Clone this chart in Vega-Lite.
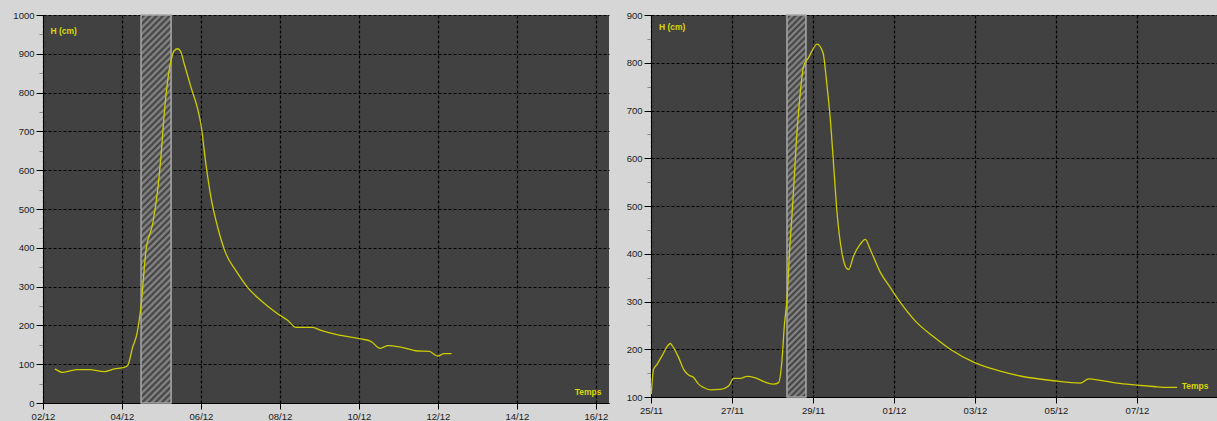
{
  "$schema": "https://vega.github.io/schema/vega-lite/v6.json",
  "background": "#d6d6d6",
  "padding": {"left": 12, "top": 10, "right": 0, "bottom": 0},
  "bounds": "flush",
  "spacing": 42,
  "datasets": {
    "left": [
      {"t": "2003-12-02T07:15", "h": 88},
      {"t": "2003-12-02T12:00", "h": 79},
      {"t": "2003-12-02T21:00", "h": 86},
      {"t": "2003-12-03T04:10", "h": 86},
      {"t": "2003-12-03T13:15", "h": 81},
      {"t": "2003-12-03T19:20", "h": 88},
      {"t": "2003-12-04T01:25", "h": 92},
      {"t": "2003-12-04T03:30", "h": 97},
      {"t": "2003-12-04T06:30", "h": 144},
      {"t": "2003-12-04T09:05", "h": 178},
      {"t": "2003-12-04T11:35", "h": 250},
      {"t": "2003-12-04T14:35", "h": 393},
      {"t": "2003-12-04T18:40", "h": 462},
      {"t": "2003-12-04T21:40", "h": 548},
      {"t": "2003-12-04T23:40", "h": 634},
      {"t": "2003-12-05T01:40", "h": 745},
      {"t": "2003-12-05T04:20", "h": 848},
      {"t": "2003-12-05T05:50", "h": 883},
      {"t": "2003-12-05T07:45", "h": 908},
      {"t": "2003-12-05T09:50", "h": 913},
      {"t": "2003-12-05T11:50", "h": 904},
      {"t": "2003-12-05T13:50", "h": 874},
      {"t": "2003-12-05T17:55", "h": 814},
      {"t": "2003-12-05T22:00", "h": 758},
      {"t": "2003-12-06T00:00", "h": 718},
      {"t": "2003-12-06T03:00", "h": 616},
      {"t": "2003-12-06T06:05", "h": 530},
      {"t": "2003-12-06T10:10", "h": 453},
      {"t": "2003-12-06T15:10", "h": 385},
      {"t": "2003-12-06T21:15", "h": 341},
      {"t": "2003-12-07T04:20", "h": 298},
      {"t": "2003-12-07T12:25", "h": 264},
      {"t": "2003-12-07T22:35", "h": 230},
      {"t": "2003-12-08T04:40", "h": 213},
      {"t": "2003-12-08T09:45", "h": 195},
      {"t": "2003-12-08T19:50", "h": 195},
      {"t": "2003-12-09T00:55", "h": 187},
      {"t": "2003-12-09T13:05", "h": 174},
      {"t": "2003-12-10T01:15", "h": 165},
      {"t": "2003-12-10T07:15", "h": 159},
      {"t": "2003-12-10T12:55", "h": 141},
      {"t": "2003-12-10T17:50", "h": 148},
      {"t": "2003-12-11T01:30", "h": 144},
      {"t": "2003-12-11T11:40", "h": 134},
      {"t": "2003-12-11T18:45", "h": 133},
      {"t": "2003-12-11T23:50", "h": 121},
      {"t": "2003-12-12T03:50", "h": 127},
      {"t": "2003-12-12T08:20", "h": 127}
    ],
    "leftHatch": [{"start": "2003-12-04T11:35", "end": "2003-12-05T05:50"}],
    "right": [
      {"t": "2002-11-25T00:10", "h": 106},
      {"t": "2002-11-25T01:30", "h": 158},
      {"t": "2002-11-25T03:30", "h": 168},
      {"t": "2002-11-25T06:30", "h": 186},
      {"t": "2002-11-25T09:05", "h": 203},
      {"t": "2002-11-25T11:25", "h": 212},
      {"t": "2002-11-25T13:25", "h": 203},
      {"t": "2002-11-25T16:20", "h": 183},
      {"t": "2002-11-25T19:20", "h": 158},
      {"t": "2002-11-25T22:15", "h": 146},
      {"t": "2002-11-26T01:15", "h": 141},
      {"t": "2002-11-26T04:10", "h": 127},
      {"t": "2002-11-26T07:10", "h": 120},
      {"t": "2002-11-26T11:10", "h": 115},
      {"t": "2002-11-26T17:05", "h": 116},
      {"t": "2002-11-26T22:00", "h": 123},
      {"t": "2002-11-27T01:00", "h": 139},
      {"t": "2002-11-27T04:55", "h": 139},
      {"t": "2002-11-27T08:55", "h": 143},
      {"t": "2002-11-27T13:50", "h": 140},
      {"t": "2002-11-27T19:45", "h": 131},
      {"t": "2002-11-28T00:40", "h": 127},
      {"t": "2002-11-28T03:35", "h": 130},
      {"t": "2002-11-28T05:40", "h": 179},
      {"t": "2002-11-28T07:00", "h": 249},
      {"t": "2002-11-28T08:35", "h": 305},
      {"t": "2002-11-28T10:10", "h": 409},
      {"t": "2002-11-28T12:10", "h": 514},
      {"t": "2002-11-28T14:05", "h": 633},
      {"t": "2002-11-28T16:05", "h": 723},
      {"t": "2002-11-28T18:25", "h": 793},
      {"t": "2002-11-28T21:25", "h": 811},
      {"t": "2002-11-28T23:35", "h": 826},
      {"t": "2002-11-29T02:20", "h": 839},
      {"t": "2002-11-29T05:55", "h": 821},
      {"t": "2002-11-29T08:20", "h": 751},
      {"t": "2002-11-29T10:15", "h": 682},
      {"t": "2002-11-29T12:15", "h": 584},
      {"t": "2002-11-29T14:15", "h": 486},
      {"t": "2002-11-29T17:10", "h": 402},
      {"t": "2002-11-29T19:10", "h": 374},
      {"t": "2002-11-29T21:05", "h": 367},
      {"t": "2002-11-30T00:05", "h": 396},
      {"t": "2002-11-30T04:00", "h": 420},
      {"t": "2002-11-30T07:00", "h": 430},
      {"t": "2002-11-30T09:55", "h": 409},
      {"t": "2002-11-30T15:55", "h": 361},
      {"t": "2002-11-30T21:50", "h": 329},
      {"t": "2002-12-01T03:45", "h": 298},
      {"t": "2002-12-01T12:40", "h": 259},
      {"t": "2002-12-01T23:30", "h": 226},
      {"t": "2002-12-02T09:20", "h": 200},
      {"t": "2002-12-02T23:10", "h": 173},
      {"t": "2002-12-03T15:00", "h": 154},
      {"t": "2002-12-04T02:50", "h": 144},
      {"t": "2002-12-04T22:35", "h": 134},
      {"t": "2002-12-05T14:25", "h": 129},
      {"t": "2002-12-05T19:20", "h": 138},
      {"t": "2002-12-06T02:15", "h": 135},
      {"t": "2002-12-06T12:10", "h": 129},
      {"t": "2002-12-07T00:00", "h": 125},
      {"t": "2002-12-07T09:50", "h": 122},
      {"t": "2002-12-07T17:45", "h": 120},
      {"t": "2002-12-07T23:45", "h": 120}
    ],
    "rightHatch": [{"start": "2002-11-28T08:35", "end": "2002-11-28T19:50"}]
  },
  "hconcat": [
    {
      "width": 566,
      "height": 388,
      "layer": [
        {
          "data": {"name": "leftHatch"},
          "mark": {
            "type": "rect",
            "stroke": "#a8a8a8",
            "strokeWidth": 1.5,
            "fill": {
              "gradient": "linear", "x1": 0, "y1": 0, "x2": 0.0828, "y2": 1.0709,
              "stops": [
                {"offset":0,"color":"#8e8e8e"},{"offset":0.0078,"color":"#3c3c3c"},{"offset":0.0156,"color":"#8e8e8e"},{"offset":0.0234,"color":"#3c3c3c"},
                {"offset":0.0313,"color":"#8e8e8e"},{"offset":0.0391,"color":"#3c3c3c"},{"offset":0.0469,"color":"#8e8e8e"},{"offset":0.0547,"color":"#3c3c3c"},
                {"offset":0.0625,"color":"#8e8e8e"},{"offset":0.0703,"color":"#3c3c3c"},{"offset":0.0781,"color":"#8e8e8e"},{"offset":0.0859,"color":"#3c3c3c"},
                {"offset":0.0938,"color":"#8e8e8e"},{"offset":0.1016,"color":"#3c3c3c"},{"offset":0.1094,"color":"#8e8e8e"},{"offset":0.1172,"color":"#3c3c3c"},
                {"offset":0.125,"color":"#8e8e8e"},{"offset":0.1328,"color":"#3c3c3c"},{"offset":0.1406,"color":"#8e8e8e"},{"offset":0.1484,"color":"#3c3c3c"},
                {"offset":0.1563,"color":"#8e8e8e"},{"offset":0.1641,"color":"#3c3c3c"},{"offset":0.1719,"color":"#8e8e8e"},{"offset":0.1797,"color":"#3c3c3c"},
                {"offset":0.1875,"color":"#8e8e8e"},{"offset":0.1953,"color":"#3c3c3c"},{"offset":0.2031,"color":"#8e8e8e"},{"offset":0.2109,"color":"#3c3c3c"},
                {"offset":0.2188,"color":"#8e8e8e"},{"offset":0.2266,"color":"#3c3c3c"},{"offset":0.2344,"color":"#8e8e8e"},{"offset":0.2422,"color":"#3c3c3c"},
                {"offset":0.25,"color":"#8e8e8e"},{"offset":0.2578,"color":"#3c3c3c"},{"offset":0.2656,"color":"#8e8e8e"},{"offset":0.2734,"color":"#3c3c3c"},
                {"offset":0.2813,"color":"#8e8e8e"},{"offset":0.2891,"color":"#3c3c3c"},{"offset":0.2969,"color":"#8e8e8e"},{"offset":0.3047,"color":"#3c3c3c"},
                {"offset":0.3125,"color":"#8e8e8e"},{"offset":0.3203,"color":"#3c3c3c"},{"offset":0.3281,"color":"#8e8e8e"},{"offset":0.3359,"color":"#3c3c3c"},
                {"offset":0.3438,"color":"#8e8e8e"},{"offset":0.3516,"color":"#3c3c3c"},{"offset":0.3594,"color":"#8e8e8e"},{"offset":0.3672,"color":"#3c3c3c"},
                {"offset":0.375,"color":"#8e8e8e"},{"offset":0.3828,"color":"#3c3c3c"},{"offset":0.3906,"color":"#8e8e8e"},{"offset":0.3984,"color":"#3c3c3c"},
                {"offset":0.4063,"color":"#8e8e8e"},{"offset":0.4141,"color":"#3c3c3c"},{"offset":0.4219,"color":"#8e8e8e"},{"offset":0.4297,"color":"#3c3c3c"},
                {"offset":0.4375,"color":"#8e8e8e"},{"offset":0.4453,"color":"#3c3c3c"},{"offset":0.4531,"color":"#8e8e8e"},{"offset":0.4609,"color":"#3c3c3c"},
                {"offset":0.4688,"color":"#8e8e8e"},{"offset":0.4766,"color":"#3c3c3c"},{"offset":0.4844,"color":"#8e8e8e"},{"offset":0.4922,"color":"#3c3c3c"},
                {"offset":0.5,"color":"#8e8e8e"},{"offset":0.5078,"color":"#3c3c3c"},{"offset":0.5156,"color":"#8e8e8e"},{"offset":0.5234,"color":"#3c3c3c"},
                {"offset":0.5313,"color":"#8e8e8e"},{"offset":0.5391,"color":"#3c3c3c"},{"offset":0.5469,"color":"#8e8e8e"},{"offset":0.5547,"color":"#3c3c3c"},
                {"offset":0.5625,"color":"#8e8e8e"},{"offset":0.5703,"color":"#3c3c3c"},{"offset":0.5781,"color":"#8e8e8e"},{"offset":0.5859,"color":"#3c3c3c"},
                {"offset":0.5938,"color":"#8e8e8e"},{"offset":0.6016,"color":"#3c3c3c"},{"offset":0.6094,"color":"#8e8e8e"},{"offset":0.6172,"color":"#3c3c3c"},
                {"offset":0.625,"color":"#8e8e8e"},{"offset":0.6328,"color":"#3c3c3c"},{"offset":0.6406,"color":"#8e8e8e"},{"offset":0.6484,"color":"#3c3c3c"},
                {"offset":0.6563,"color":"#8e8e8e"},{"offset":0.6641,"color":"#3c3c3c"},{"offset":0.6719,"color":"#8e8e8e"},{"offset":0.6797,"color":"#3c3c3c"},
                {"offset":0.6875,"color":"#8e8e8e"},{"offset":0.6953,"color":"#3c3c3c"},{"offset":0.7031,"color":"#8e8e8e"},{"offset":0.7109,"color":"#3c3c3c"},
                {"offset":0.7188,"color":"#8e8e8e"},{"offset":0.7266,"color":"#3c3c3c"},{"offset":0.7344,"color":"#8e8e8e"},{"offset":0.7422,"color":"#3c3c3c"},
                {"offset":0.75,"color":"#8e8e8e"},{"offset":0.7578,"color":"#3c3c3c"},{"offset":0.7656,"color":"#8e8e8e"},{"offset":0.7734,"color":"#3c3c3c"},
                {"offset":0.7813,"color":"#8e8e8e"},{"offset":0.7891,"color":"#3c3c3c"},{"offset":0.7969,"color":"#8e8e8e"},{"offset":0.8047,"color":"#3c3c3c"},
                {"offset":0.8125,"color":"#8e8e8e"},{"offset":0.8203,"color":"#3c3c3c"},{"offset":0.8281,"color":"#8e8e8e"},{"offset":0.8359,"color":"#3c3c3c"},
                {"offset":0.8438,"color":"#8e8e8e"},{"offset":0.8516,"color":"#3c3c3c"},{"offset":0.8594,"color":"#8e8e8e"},{"offset":0.8672,"color":"#3c3c3c"},
                {"offset":0.875,"color":"#8e8e8e"},{"offset":0.8828,"color":"#3c3c3c"},{"offset":0.8906,"color":"#8e8e8e"},{"offset":0.8984,"color":"#3c3c3c"},
                {"offset":0.9063,"color":"#8e8e8e"},{"offset":0.9141,"color":"#3c3c3c"},{"offset":0.9219,"color":"#8e8e8e"},{"offset":0.9297,"color":"#3c3c3c"},
                {"offset":0.9375,"color":"#8e8e8e"},{"offset":0.9453,"color":"#3c3c3c"},{"offset":0.9531,"color":"#8e8e8e"},{"offset":0.9609,"color":"#3c3c3c"},
                {"offset":0.9688,"color":"#8e8e8e"},{"offset":0.9766,"color":"#3c3c3c"},{"offset":0.9844,"color":"#8e8e8e"},{"offset":0.9922,"color":"#3c3c3c"},
                {"offset":1,"color":"#8e8e8e"}
              ]
            }
          },
          "encoding": {
            "x": {"field": "start", "type": "temporal"},
            "x2": {"field": "end"}
          }
        },
        {
          "data": {"name": "left"},
          "mark": {"type": "line", "color": "#cccc00", "strokeWidth": 1.3, "interpolate": "monotone"},
          "encoding": {
            "x": {
              "field": "t", "type": "temporal",
              "scale": {"domain": [{"year": 2003, "month": 12, "date": 2}, {"year": 2003, "month": 12, "date": 16, "hours": 8}]},
              "axis": {
                "values": [
                  {"year": 2003, "month": 12, "date": 2}, {"year": 2003, "month": 12, "date": 4},
                  {"year": 2003, "month": 12, "date": 6}, {"year": 2003, "month": 12, "date": 8},
                  {"year": 2003, "month": 12, "date": 10}, {"year": 2003, "month": 12, "date": 12},
                  {"year": 2003, "month": 12, "date": 14}, {"year": 2003, "month": 12, "date": 16}
                ],
                "format": "%d/%m",
                "title": "Temps", "titleX": 558, "titleY": -12, "titleAlign": "right", "titleBaseline": "middle"
              }
            },
            "y": {
              "field": "h", "type": "quantitative",
              "scale": {"domain": [0, 1000]},
              "axis": {
                "values": [0,50,100,150,200,250,300,350,400,450,500,550,600,650,700,750,800,850,900,950,1000],
                "format": "d",
                "labelExpr": "datum.value % 100 === 0 ? datum.label : ''",
                "tickSize": {"condition": {"test": "datum.value % 100 === 0", "value": 7}, "value": 4},
                "tickColor": {"condition": {"test": "datum.value % 100 === 0", "value": "#000000"}, "value": "#8a8a8a"},
                "gridOpacity": {"condition": {"test": "datum.value % 100 === 0", "value": 1}, "value": 0},
                "title": "H (cm)", "titleX": 7, "titleY": 15, "titleAngle": 0, "titleAlign": "left", "titleBaseline": "middle"
              }
            }
          }
        }
      ]
    },
    {
      "width": 566,
      "height": 382,
      "layer": [
        {
          "data": {"name": "rightHatch"},
          "mark": {
            "type": "rect",
            "stroke": "#a8a8a8",
            "strokeWidth": 1.5,
            "fill": {
              "gradient": "linear", "x1": 0, "y1": 0, "x2": 0.0521, "y2": 1.0472,
              "stops": [
                {"offset":0,"color":"#8e8e8e"},{"offset":0.0078,"color":"#3c3c3c"},{"offset":0.0156,"color":"#8e8e8e"},{"offset":0.0234,"color":"#3c3c3c"},
                {"offset":0.0313,"color":"#8e8e8e"},{"offset":0.0391,"color":"#3c3c3c"},{"offset":0.0469,"color":"#8e8e8e"},{"offset":0.0547,"color":"#3c3c3c"},
                {"offset":0.0625,"color":"#8e8e8e"},{"offset":0.0703,"color":"#3c3c3c"},{"offset":0.0781,"color":"#8e8e8e"},{"offset":0.0859,"color":"#3c3c3c"},
                {"offset":0.0938,"color":"#8e8e8e"},{"offset":0.1016,"color":"#3c3c3c"},{"offset":0.1094,"color":"#8e8e8e"},{"offset":0.1172,"color":"#3c3c3c"},
                {"offset":0.125,"color":"#8e8e8e"},{"offset":0.1328,"color":"#3c3c3c"},{"offset":0.1406,"color":"#8e8e8e"},{"offset":0.1484,"color":"#3c3c3c"},
                {"offset":0.1563,"color":"#8e8e8e"},{"offset":0.1641,"color":"#3c3c3c"},{"offset":0.1719,"color":"#8e8e8e"},{"offset":0.1797,"color":"#3c3c3c"},
                {"offset":0.1875,"color":"#8e8e8e"},{"offset":0.1953,"color":"#3c3c3c"},{"offset":0.2031,"color":"#8e8e8e"},{"offset":0.2109,"color":"#3c3c3c"},
                {"offset":0.2188,"color":"#8e8e8e"},{"offset":0.2266,"color":"#3c3c3c"},{"offset":0.2344,"color":"#8e8e8e"},{"offset":0.2422,"color":"#3c3c3c"},
                {"offset":0.25,"color":"#8e8e8e"},{"offset":0.2578,"color":"#3c3c3c"},{"offset":0.2656,"color":"#8e8e8e"},{"offset":0.2734,"color":"#3c3c3c"},
                {"offset":0.2813,"color":"#8e8e8e"},{"offset":0.2891,"color":"#3c3c3c"},{"offset":0.2969,"color":"#8e8e8e"},{"offset":0.3047,"color":"#3c3c3c"},
                {"offset":0.3125,"color":"#8e8e8e"},{"offset":0.3203,"color":"#3c3c3c"},{"offset":0.3281,"color":"#8e8e8e"},{"offset":0.3359,"color":"#3c3c3c"},
                {"offset":0.3438,"color":"#8e8e8e"},{"offset":0.3516,"color":"#3c3c3c"},{"offset":0.3594,"color":"#8e8e8e"},{"offset":0.3672,"color":"#3c3c3c"},
                {"offset":0.375,"color":"#8e8e8e"},{"offset":0.3828,"color":"#3c3c3c"},{"offset":0.3906,"color":"#8e8e8e"},{"offset":0.3984,"color":"#3c3c3c"},
                {"offset":0.4063,"color":"#8e8e8e"},{"offset":0.4141,"color":"#3c3c3c"},{"offset":0.4219,"color":"#8e8e8e"},{"offset":0.4297,"color":"#3c3c3c"},
                {"offset":0.4375,"color":"#8e8e8e"},{"offset":0.4453,"color":"#3c3c3c"},{"offset":0.4531,"color":"#8e8e8e"},{"offset":0.4609,"color":"#3c3c3c"},
                {"offset":0.4688,"color":"#8e8e8e"},{"offset":0.4766,"color":"#3c3c3c"},{"offset":0.4844,"color":"#8e8e8e"},{"offset":0.4922,"color":"#3c3c3c"},
                {"offset":0.5,"color":"#8e8e8e"},{"offset":0.5078,"color":"#3c3c3c"},{"offset":0.5156,"color":"#8e8e8e"},{"offset":0.5234,"color":"#3c3c3c"},
                {"offset":0.5313,"color":"#8e8e8e"},{"offset":0.5391,"color":"#3c3c3c"},{"offset":0.5469,"color":"#8e8e8e"},{"offset":0.5547,"color":"#3c3c3c"},
                {"offset":0.5625,"color":"#8e8e8e"},{"offset":0.5703,"color":"#3c3c3c"},{"offset":0.5781,"color":"#8e8e8e"},{"offset":0.5859,"color":"#3c3c3c"},
                {"offset":0.5938,"color":"#8e8e8e"},{"offset":0.6016,"color":"#3c3c3c"},{"offset":0.6094,"color":"#8e8e8e"},{"offset":0.6172,"color":"#3c3c3c"},
                {"offset":0.625,"color":"#8e8e8e"},{"offset":0.6328,"color":"#3c3c3c"},{"offset":0.6406,"color":"#8e8e8e"},{"offset":0.6484,"color":"#3c3c3c"},
                {"offset":0.6563,"color":"#8e8e8e"},{"offset":0.6641,"color":"#3c3c3c"},{"offset":0.6719,"color":"#8e8e8e"},{"offset":0.6797,"color":"#3c3c3c"},
                {"offset":0.6875,"color":"#8e8e8e"},{"offset":0.6953,"color":"#3c3c3c"},{"offset":0.7031,"color":"#8e8e8e"},{"offset":0.7109,"color":"#3c3c3c"},
                {"offset":0.7188,"color":"#8e8e8e"},{"offset":0.7266,"color":"#3c3c3c"},{"offset":0.7344,"color":"#8e8e8e"},{"offset":0.7422,"color":"#3c3c3c"},
                {"offset":0.75,"color":"#8e8e8e"},{"offset":0.7578,"color":"#3c3c3c"},{"offset":0.7656,"color":"#8e8e8e"},{"offset":0.7734,"color":"#3c3c3c"},
                {"offset":0.7813,"color":"#8e8e8e"},{"offset":0.7891,"color":"#3c3c3c"},{"offset":0.7969,"color":"#8e8e8e"},{"offset":0.8047,"color":"#3c3c3c"},
                {"offset":0.8125,"color":"#8e8e8e"},{"offset":0.8203,"color":"#3c3c3c"},{"offset":0.8281,"color":"#8e8e8e"},{"offset":0.8359,"color":"#3c3c3c"},
                {"offset":0.8438,"color":"#8e8e8e"},{"offset":0.8516,"color":"#3c3c3c"},{"offset":0.8594,"color":"#8e8e8e"},{"offset":0.8672,"color":"#3c3c3c"},
                {"offset":0.875,"color":"#8e8e8e"},{"offset":0.8828,"color":"#3c3c3c"},{"offset":0.8906,"color":"#8e8e8e"},{"offset":0.8984,"color":"#3c3c3c"},
                {"offset":0.9063,"color":"#8e8e8e"},{"offset":0.9141,"color":"#3c3c3c"},{"offset":0.9219,"color":"#8e8e8e"},{"offset":0.9297,"color":"#3c3c3c"},
                {"offset":0.9375,"color":"#8e8e8e"},{"offset":0.9453,"color":"#3c3c3c"},{"offset":0.9531,"color":"#8e8e8e"},{"offset":0.9609,"color":"#3c3c3c"},
                {"offset":0.9688,"color":"#8e8e8e"},{"offset":0.9766,"color":"#3c3c3c"},{"offset":0.9844,"color":"#8e8e8e"},{"offset":0.9922,"color":"#3c3c3c"},
                {"offset":1,"color":"#8e8e8e"}
              ]
            }
          },
          "encoding": {
            "x": {"field": "start", "type": "temporal"},
            "x2": {"field": "end"}
          }
        },
        {
          "data": {"name": "right"},
          "mark": {"type": "line", "color": "#cccc00", "strokeWidth": 1.3, "interpolate": "monotone"},
          "encoding": {
            "x": {
              "field": "t", "type": "temporal",
              "scale": {"domain": [{"year": 2002, "month": 11, "date": 25}, {"year": 2002, "month": 12, "date": 8, "hours": 23, "minutes": 24}]},
              "axis": {
                "values": [
                  {"year": 2002, "month": 11, "date": 25}, {"year": 2002, "month": 11, "date": 27},
                  {"year": 2002, "month": 11, "date": 29}, {"year": 2002, "month": 12, "date": 1},
                  {"year": 2002, "month": 12, "date": 3}, {"year": 2002, "month": 12, "date": 5},
                  {"year": 2002, "month": 12, "date": 7}
                ],
                "format": "%d/%m",
                "title": "Temps", "titleX": 557, "titleY": -11.5, "titleAlign": "right", "titleBaseline": "middle"
              }
            },
            "y": {
              "field": "h", "type": "quantitative",
              "scale": {"domain": [100, 900], "zero": false},
              "axis": {
                "values": [100,150,200,250,300,350,400,450,500,550,600,650,700,750,800,850,900],
                "format": "d",
                "labelExpr": "datum.value % 100 === 0 ? datum.label : ''",
                "tickSize": {"condition": {"test": "datum.value % 100 === 0", "value": 7}, "value": 4},
                "tickColor": {"condition": {"test": "datum.value % 100 === 0", "value": "#000000"}, "value": "#8a8a8a"},
                "gridOpacity": {"condition": {"test": "datum.value % 100 === 0", "value": 1}, "value": 0},
                "title": "H (cm)", "titleX": 7.5, "titleY": 11.5, "titleAngle": 0, "titleAlign": "left", "titleBaseline": "middle"
              }
            }
          }
        }
      ]
    }
  ],
  "config": {
    "view": {"fill": "#414141", "stroke": null},
    "axis": {
      "labelFont": "Liberation Sans",
      "labelFontSize": 9.5,
      "labelColor": "#1a1a1a",
      "domainColor": "#000000",
      "tickColor": "#000000",
      "grid": true,
      "gridColor": "#000000",
      "gridDash": [3, 2],
      "gridWidth": 1.2,
      "gridOpacity": 1,
      "titleFont": "Liberation Sans",
      "titleFontSize": 8.5,
      "titleFontWeight": "bold",
      "titleColor": "#d8d800",
      "labelPadding": 2
    },
    "axisX": {"tickSize": 6, "labelFlush": false, "labelOverlap": false},
    "axisY": {"tickSize": 7}
  }
}
